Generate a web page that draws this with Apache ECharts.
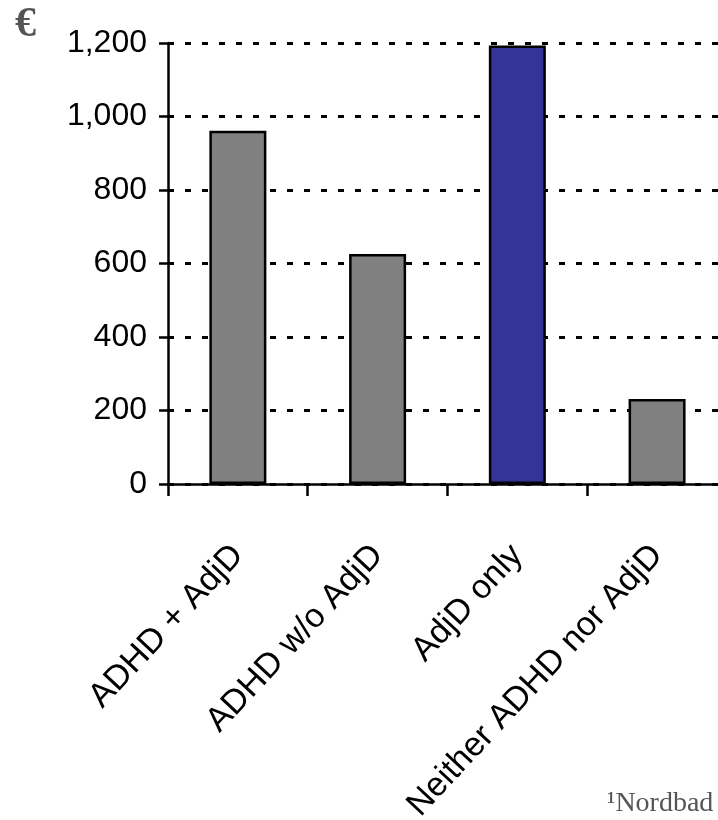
<!DOCTYPE html>
<html>
<head>
<meta charset="utf-8">
<script src="https://cdn.jsdelivr.net/npm/echarts@6/dist/echarts.min.js"></script>
<style>
html,body{margin:0;padding:0;background:#fff;}
#chart{width:718px;height:820px;}
</style>
</head>
<body>
<div id="chart"></div>
<script>
var categories = ['ADHD + AdjD', 'ADHD w/o AdjD', 'AdjD only', 'Neither ADHD nor AdjD'];
var values = [961, 626, 1193, 231];
var barColors = ['#808080', '#808080', '#333399', '#808080'];
var yTicks = { min: 0, max: 1200, interval: 200 };

var chart = echarts.init(document.getElementById('chart'));
// category slots on a numeric band axis: slot i spans [i, i+1], centre at i+0.5
var slotEdges = categories.map(function (c, i) { return i; });
var slotCentres = categories.map(function (c, i) { return i + 0.5; });
var data = values.map(function (v, i) {
  return { value: [slotCentres[i], v], itemStyle: { color: barColors[i] } };
});

chart.setOption({
  animation: false,
  backgroundColor: '#fff',
  title: [
    { text: '€', left: 15, top: 4, padding: 0, textStyle: { fontFamily: 'Liberation Serif', fontWeight: 'bold', fontSize: 42, color: '#555' } },
    { text: '¹Nordbad', left: 607, top: 790, padding: 0, textStyle: { fontFamily: 'Liberation Serif', fontWeight: 'normal', fontSize: 28, color: '#555' } }
  ],
  grid: { left: 168, top: 43, right: 0, height: 441, containLabel: false, outerBoundsMode: 'none' },
  xAxis: {
    type: 'value',
    min: 0,
    max: 3.936,
    splitLine: { show: false },
    axisLine: { show: true, onZero: false, lineStyle: { color: '#000', width: 2.5 } },
    axisTick: { show: true, length: 12, customValues: slotEdges, lineStyle: { color: '#000', width: 2.5 } },
    axisLabel: { rotate: 47, margin: 66, fontFamily: 'Liberation Sans', fontSize: 34, color: '#000',
      customValues: slotCentres,
      formatter: function (v) { return categories[Math.round(v - 0.5)] || ''; } }
  },
  yAxis: {
    type: 'value',
    min: yTicks.min, max: yTicks.max, interval: yTicks.interval,
    axisLine: { show: true, lineStyle: { color: '#000', width: 2.5 } },
    axisTick: { show: true, length: 9, lineStyle: { color: '#000', width: 2.5 } },
    axisLabel: { margin: 21, fontFamily: 'Liberation Sans', fontSize: 32, color: '#000',
      formatter: function (v) { return v.toLocaleString('en-US'); } },
    splitLine: { show: true, lineStyle: { color: '#000', width: 3, type: [6, 11] } }
  },
  graphic: [{
    type: 'rect', left: 664, top: 500, z: 100,
    shape: { width: 60, height: 285 },
    style: { fill: '#fff' }
  }],
  series: [{
    type: 'bar',
    data: data,
    barWidth: 57,
    itemStyle: { borderColor: '#000', borderWidth: 2.5 }
  }]
});
</script>
</body>
</html>
